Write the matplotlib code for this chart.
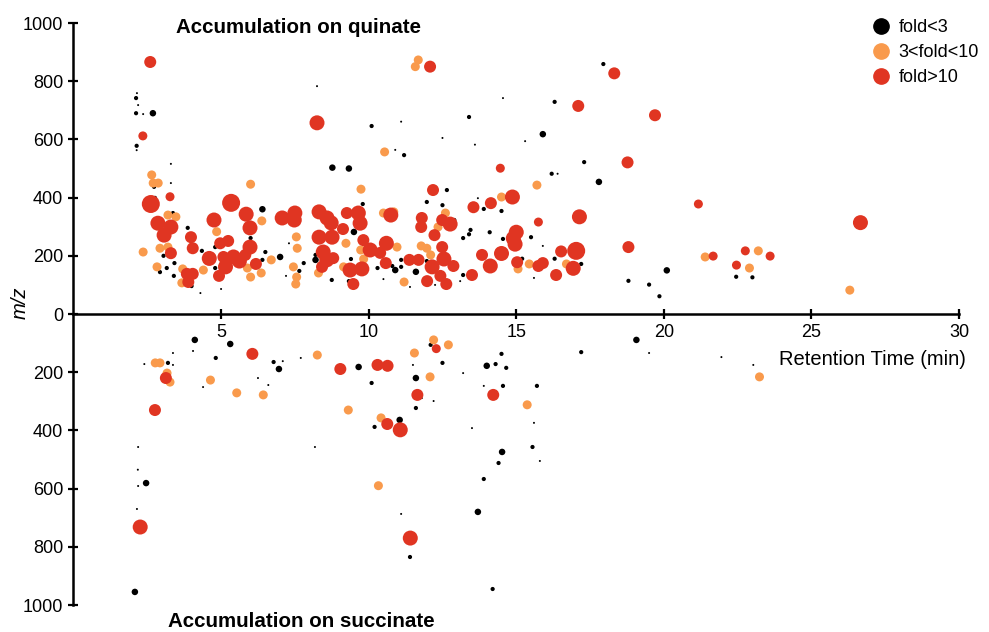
import numpy as np
import matplotlib.pyplot as plt
from matplotlib.lines import Line2D
from matplotlib.ticker import FuncFormatter

plt.rcParams['font.family'] = ['Liberation Sans', 'DejaVu Sans']

# --------------------------------
# Features: (retention time min, m/z, peak size level)
# positive m/z -> accumulation on quinate, negative -> accumulation on succinate
# --------------------------------
fold_lt3 = [
    (2.15, 759, 1), (2.12, 742, 2), (2.19, 718, 1), (2.12, 690, 2), (2.36, 687, 1), (2.69, 690, 3),
    (2.14, 578, 2), (2.14, 563, 1), (8.25, 783, 1), (8.77, 503, 3), (9.33, 500, 3), (10.1, 646, 2),
    (11.1, 661, 1), (11.2, 546, 2), (10.9, 564, 1), (13.4, 677, 2), (13.6, 582, 1), (12.5, 605, 1),
    (12.65, 426, 2), (11.97, 385, 2), (12.5, 374, 2), (13.7, 398, 1), (13.9, 361, 2), (14.1, 281, 2),
    (13.45, 289, 2), (13.4, 274, 2), (13.2, 261, 2), (13.2, 134, 2), (13.1, 113, 1), (9.8, 378, 2),
    (9.5, 282, 3), (10.3, 158, 2), (10.5, 120, 1), (10.9, 151, 3), (11.1, 162, 2), (10.8, 165, 2),
    (11.6, 145, 3), (11.4, 93, 1), (11.1, 186, 2), (11.97, 182, 2), (12.25, 100, 1), (12.9, 323, 2),
    (9.4, 189, 2), (9.33, 113, 2), (8.75, 117, 2), (8.2, 203, 2), (8.2, 186, 3), (7.8, 175, 2),
    (7.55, 117, 2), (7.2, 131, 1), (7.0, 196, 3), (6.5, 213, 2), (6.4, 186, 2), (6.4, 360, 3),
    (6.0, 261, 2), (4.8, 158, 2), (4.8, 230, 2), (5.0, 86, 1), (4.35, 217, 2), (4.3, 72, 1),
    (4.0, 96, 2), (3.87, 296, 2), (3.4, 131, 2), (3.42, 175, 2), (3.16, 158, 2), (2.93, 144, 2),
    (3.05, 200, 2), (3.37, 347, 2), (2.76, 399, 2), (2.73, 437, 2), (3.3, 516, 1), (3.3, 450, 1),
    (7.65, 148, 2), (7.3, 243, 1),
    (17.95, 859, 2), (14.55, 742, 1), (16.3, 729, 2), (15.9, 618, 3), (15.3, 594, 1), (17.3, 522, 2),
    (16.2, 482, 2), (16.4, 482, 1), (17.8, 454, 3), (14.5, 354, 2), (14.55, 258, 2), (15.5, 264, 2),
    (15.9, 234, 1), (15.2, 190, 2), (16.3, 190, 2), (17.2, 172, 2), (15.6, 124, 1), (18.8, 114, 2),
    (19.5, 101, 2), (20.1, 150, 3), (19.85, 61, 2), (22.45, 128, 2), (23.0, 126, 2),
    (4.11, -89, 3), (5.31, -103, 3), (4.05, -127, 1), (3.37, -134, 1), (3.2, -168, 2), (3.37, -175, 1),
    (2.4, -172, 1), (4.82, -151, 2), (4.39, -251, 1), (6.78, -165, 2), (7.09, -162, 1), (7.7, -151, 1),
    (6.96, -189, 3), (6.25, -220, 1), (6.6, -244, 1), (8.18, -457, 1), (9.66, -182, 3), (10.1, -237, 2),
    (10.2, -388, 2), (11.05, -364, 3), (11.1, -687, 1), (11.4, -835, 2), (11.6, -220, 3), (11.6, -323, 2),
    (11.8, -289, 1), (12.2, -299, 1), (12.1, -106, 2), (12.5, -168, 2), (13.2, -203, 1), (13.5, -392, 1),
    (14.0, -178, 3), (14.3, -172, 2), (14.66, -185, 2), (14.5, -137, 2), (13.9, -567, 2), (13.7, -680, 3),
    (14.2, -945, 2), (2.08, -955, 3), (2.46, -581, 3), (2.19, -591, 1), (2.15, -670, 1), (2.19, -457, 1),
    (2.18, -535, 1), (19.07, -89, 3), (17.2, -131, 2), (19.5, -134, 1), (21.95, -148, 1), (23.03, -175, 1),
    (14.55, -247, 2), (15.7, -247, 2), (14.52, -474, 3), (14.4, -512, 2), (15.55, -457, 2), (15.8, -505, 1),
    (15.6, -374, 1), (13.9, -247, 1), (11.5, -175, 1),
]

fold_3_10 = [
    (11.68, 873, 4), (11.58, 850, 4), (2.65, 478, 4), (2.7, 450, 4), (2.87, 450, 4), (6.0, 446, 4),
    (9.74, 429, 4), (10.54, 557, 4), (3.2, 340, 4), (3.47, 334, 4), (2.36, 213, 4), (2.93, 226, 4),
    (3.2, 230, 4), (2.83, 162, 4), (3.7, 155, 4), (3.67, 107, 4), (4.85, 283, 4), (6.38, 320, 4),
    (5.89, 158, 4), (6.0, 127, 4), (6.36, 141, 4), (4.4, 151, 4), (6.7, 186, 4), (7.55, 265, 4),
    (7.58, 226, 4), (7.45, 162, 4), (7.56, 127, 4), (7.53, 103, 4), (8.3, 141, 4), (9.23, 243, 4),
    (9.73, 220, 4), (9.83, 189, 4), (9.15, 162, 4), (10.5, 347, 4), (10.85, 351, 4), (10.96, 230, 4),
    (11.2, 110, 4), (11.78, 234, 4), (11.97, 226, 4), (12.1, 203, 4), (12.6, 347, 4), (12.35, 299, 4),
    (15.7, 443, 4), (14.5, 402, 4), (15.06, 155, 4), (15.44, 172, 4), (16.7, 172, 4), (21.4, 196, 4),
    (22.9, 158, 4), (23.2, 217, 4), (26.3, 82, 4),
    (2.77, -168, 4), (2.93, -168, 4), (3.17, -203, 4), (3.27, -234, 4), (4.64, -227, 4), (5.53, -271, 4),
    (6.43, -278, 4), (8.26, -141, 4), (9.31, -330, 4), (10.42, -357, 4), (10.33, -590, 4), (11.55, -134, 4),
    (12.2, -89, 4), (12.7, -106, 4), (12.08, -216, 4), (15.37, -312, 4), (23.24, -216, 4),
]

fold_gt10 = [
    (2.6, 866, 5), (2.35, 612, 4), (8.25, 657, 6), (12.08, 850, 5), (2.62, 378, 7), (3.27, 403, 4),
    (2.86, 312, 6), (3.07, 271, 6), (3.3, 299, 6), (3.3, 209, 5), (3.98, 264, 5), (4.04, 226, 5),
    (3.84, 138, 5), (4.04, 138, 5), (3.89, 110, 5), (4.6, 191, 6), (4.76, 323, 6), (5.34, 382, 7),
    (5.85, 343, 6), (5.98, 296, 6), (5.98, 230, 6), (4.97, 243, 5), (5.24, 251, 5), (5.08, 196, 5),
    (5.15, 162, 6), (4.93, 131, 5), (5.42, 196, 6), (5.62, 182, 6), (5.82, 203, 5), (6.18, 172, 5),
    (7.07, 330, 6), (7.5, 347, 6), (7.48, 323, 6), (8.32, 351, 6), (8.59, 330, 6), (8.73, 313, 6),
    (9.13, 292, 5), (8.32, 264, 6), (8.76, 264, 6), (9.26, 347, 5), (9.65, 347, 6), (9.71, 312, 6),
    (9.82, 254, 5), (8.46, 213, 6), (8.58, 186, 6), (8.8, 192, 5), (8.42, 162, 5), (9.37, 151, 6),
    (9.77, 155, 6), (9.48, 103, 5), (10.05, 220, 6), (10.39, 210, 5), (10.6, 243, 6), (10.58, 175, 5),
    (10.75, 340, 6), (11.38, 186, 5), (11.69, 186, 5), (11.8, 330, 5), (11.78, 299, 5), (12.18, 426, 5),
    (12.23, 271, 5), (12.49, 323, 5), (12.76, 309, 6), (12.49, 230, 5), (12.55, 189, 6), (12.15, 162, 6),
    (11.98, 113, 5), (12.43, 131, 5), (12.63, 103, 5), (12.87, 165, 5), (13.55, 367, 5), (14.14, 381, 5),
    (13.84, 203, 5), (13.5, 134, 5), (14.12, 165, 6), (14.46, 501, 4), (18.32, 827, 5), (17.1, 715, 5),
    (19.7, 683, 5), (18.77, 521, 5), (14.87, 402, 6), (17.14, 334, 6), (15.75, 316, 4), (21.17, 378, 4),
    (26.66, 314, 6), (15.0, 281, 6), (14.9, 260, 6), (14.96, 240, 6), (14.5, 208, 6), (15.03, 178, 5),
    (15.75, 165, 5), (15.9, 175, 5), (16.35, 134, 5), (16.52, 215, 5), (17.03, 217, 7), (16.93, 157, 6),
    (18.8, 230, 5), (21.67, 199, 4), (22.76, 217, 4), (22.46, 168, 4), (23.6, 199, 4),
    (6.06, -137, 5), (3.13, -220, 5), (2.76, -330, 5), (2.26, -732, 6), (9.04, -189, 5), (10.3, -175, 5),
    (10.64, -178, 5), (12.29, -119, 4), (11.65, -278, 5), (10.63, -378, 5), (11.07, -398, 6),
    (11.41, -770, 6), (14.22, -278, 5),
]

groups = [fold_lt3, fold_3_10, fold_gt10]
labels = ["fold<3", "3<fold<10", "fold>10"]
colors = ["#000000", "#F99A4C", "#E03522"]

# marker diameter (px) for each size level
diam_px = {1: 2, 2: 4.2, 3: 6.5, 4: 9, 5: 12, 6: 15, 7: 18}

# --------------------------------
# Plot
# --------------------------------
fig = plt.figure(figsize=(9.89, 6.32), dpi=100)
ax = fig.add_axes([0.0743, 0.0427, 0.8954, 0.9209])

for pts, col in zip(groups, colors):
    rt, mz, lvl = np.array(pts).T
    sizes = [(diam_px[int(v)] * 0.72) ** 2 for v in lvl]
    ax.scatter(rt, mz, s=sizes, c=col, edgecolors="none", zorder=3, clip_on=False)

ax.set_xlim(0, 30)
ax.set_ylim(-1000, 1000)

for side in ["top", "right"]:
    ax.spines[side].set_visible(False)
ax.spines["bottom"].set_position(("data", 0))
ax.spines["bottom"].set_linewidth(1.8)
ax.spines["left"].set_linewidth(1.8)

ax.set_xticks(np.arange(5, 31, 5))
ax.set_yticks(np.arange(-1000, 1001, 200))
ax.yaxis.set_major_formatter(FuncFormatter(lambda v, p: f"{abs(int(v))}"))
ax.tick_params(direction="inout", length=7, width=1.6, labelsize=13, pad=4)

ax.text(30.22, -158, "Retention Time (min)", ha="right", va="center", fontsize=14.5)
ax.text(-1.8, 40, "m/z", rotation=90, ha="center", va="center",
        fontsize=14.5, style="italic")
ax.text(7.61, 985, "Accumulation on quinate", ha="center", va="center",
        fontsize=14.8, fontweight="bold")
ax.text(7.71, -1058, "Accumulation on succinate", ha="center", va="center",
        fontsize=14.8, fontweight="bold")

handles = [Line2D([], [], marker="o", ls="none", color=c, markersize=11)
           for c in colors]
fig.legend(handles, labels, loc="upper left", bbox_to_anchor=(0.869, 0.99),
           frameon=False, fontsize=13, handlelength=1.0, handletextpad=0.45,
           labelspacing=0.45, borderpad=0.2)

plt.savefig("out.png", dpi=100)
plt.close()
